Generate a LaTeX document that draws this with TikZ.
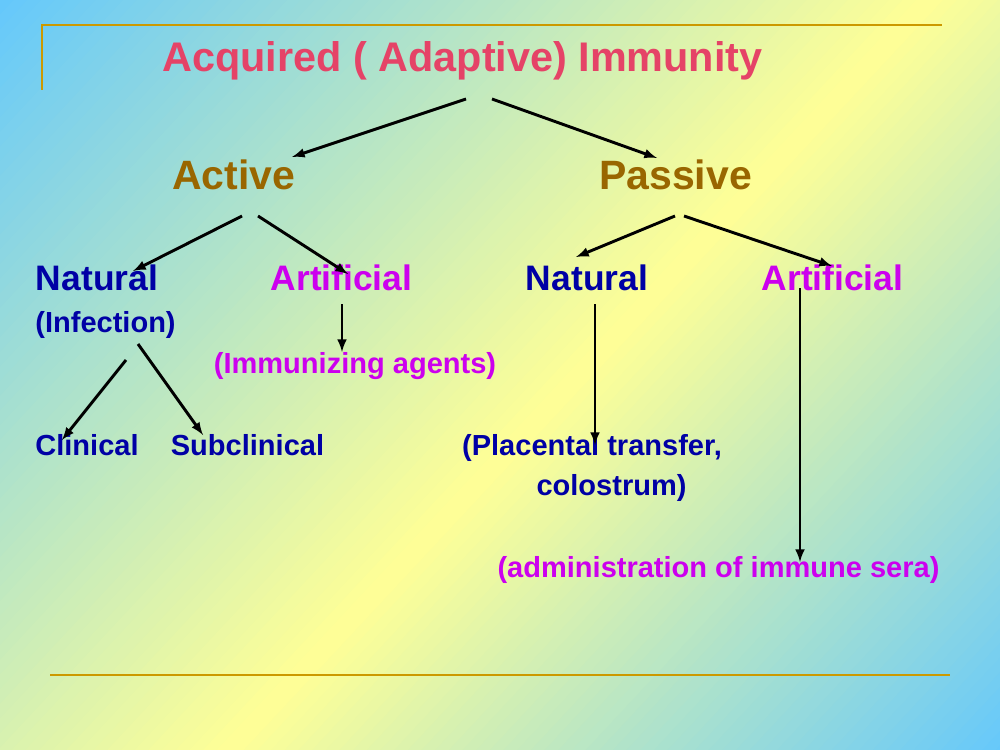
\documentclass[tikz,border=0pt]{standalone}
\usepackage{fontspec}
\setmainfont{Liberation Sans}
\usepackage{xcolor}
\usetikzlibrary{calc, positioning}

\definecolor{skyb}{RGB}{100,200,252}
\definecolor{paley}{RGB}{255,255,150}
\definecolor{rulegold}{RGB}{204,153,0}
\definecolor{titlered}{RGB}{229,67,103}
\definecolor{brn}{RGB}{153,102,0}
\definecolor{navy}{RGB}{0,0,165}
\definecolor{mgnt}{RGB}{204,0,238}

\tikzset{
    lbl/.style={inner sep=0pt, anchor=base, font=\bfseries},
    ttl/.style={lbl, text=titlered, font=\bfseries\fontsize{29.8}{34}\selectfont},
    lvla/.style={lbl, text=brn, font=\bfseries\fontsize{29.5}{34}\selectfont},
    lvlb/.style={lbl, font=\bfseries\fontsize{25.5}{30}\selectfont},
    note/.style={lbl, font=\bfseries\fontsize{20.9}{25}\selectfont},
    arr/.style={->, line width=2.1pt},
}

\begin{document}
\begin{tikzpicture}[>=latex, x=0.72pt, y=-0.72pt]
    % 1. Nền và đường kẻ
    \begin{scope}
        \clip (0,0) rectangle (1000,750);
        \foreach \i in {0,...,124}{
            \pgfmathsetmacro{\t}{\i*10}
            \pgfmathsetmacro{\p}{max(0,min(100,(\t+5<680) ? (\t+5)/6.8 : (1245-\t)/5.7))}
            \fill[paley!\p!skyb, rotate=-43] (\t,-1300) rectangle ({\t+10.6},1300);
        }
    \end{scope}
    \useasboundingbox (0,0) rectangle (1000,750);
    \draw[rulegold, line width=2pt] (42,90) -- (42,25) -- (942,25);
    \draw[rulegold, line width=2pt] (50,675) -- (950,675);

    % 2. Các nhãn
    \node[ttl] (ttl) at (462.5,72) {Acquired ( Adaptive) Immunity};
    \node[lvla] (act) at (233.5,190) {Active};
    \node[lvla] (pas) at (675.5,190) {Passive};
    \node[lvlb, text=navy] (natA) at (97,290) {Natural};
    \node[lvlb, text=mgnt] (artA) at (341.5,290) {Artificial};
    \node[lvlb, text=navy] (natP) at (587,290) {Natural};
    \node[lvlb, text=mgnt] (artP) at (832.5,290) {Artificial};
    \node[note, text=navy] (inf) at (105.5,332) {(Infection)};
    \node[note, text=mgnt] (imm) at (355,373) {(Immunizing agents)};
    \node[note, text=navy] (cli) at (87,455) {Clinical};
    \node[note, text=navy] (sbc) at (247.5,455) {Subclinical};
    \node[note, text=navy] (pla) at (592,455) {(Placental transfer,};
    \node[note, text=navy] (col) at (611.5,495) {colostrum)};
    \node[note, text=mgnt] (adm) at (718.5,577) {(administration of immune sera)};

    % 3. Mũi tên
    \draw[arr] ($(ttl.base)+(3.5,27)$) -- ($(act.base)+(58.5,-33)$);
    \draw[arr] ($(ttl.base)+(29.5,27)$) -- ($(pas.base)+(-18.5,-32)$);
    \draw[arr] ($(act.base)+(8.5,26)$) -- ($(natA.base)+(36,-19)$);
    \draw[arr] ($(act.base)+(24.5,26)$) -- ($(artA.base)+(6.5,-16)$);
    \draw[arr] ($(pas.base)+(-0.5,26)$) -- ($(natP.base)+(-11,-33)$);
    \draw[arr] ($(pas.base)+(8.5,26)$) -- ($(artP.base)+(-0.5,-24)$);
    \draw[arr] ($(artA.base)+(0.5,14)$) -- ($(imm.base)+(-13,-21)$);
    \draw[arr] ($(inf.base)+(20.5,28)$) -- ($(cli.base)+(-25,-15)$);
    \draw[arr] ($(inf.base)+(32.5,12)$) -- ($(sbc.base)+(-44.5,-20)$);
    \draw[arr] ($(natP.base)+(8,14)$) -- ($(pla.base)+(3,-10)$);
    \draw[arr] ($(artP.base)+(-32.5,-2)$) -- ($(adm.base)+(81.5,-15)$);
\end{tikzpicture}
\end{document}
